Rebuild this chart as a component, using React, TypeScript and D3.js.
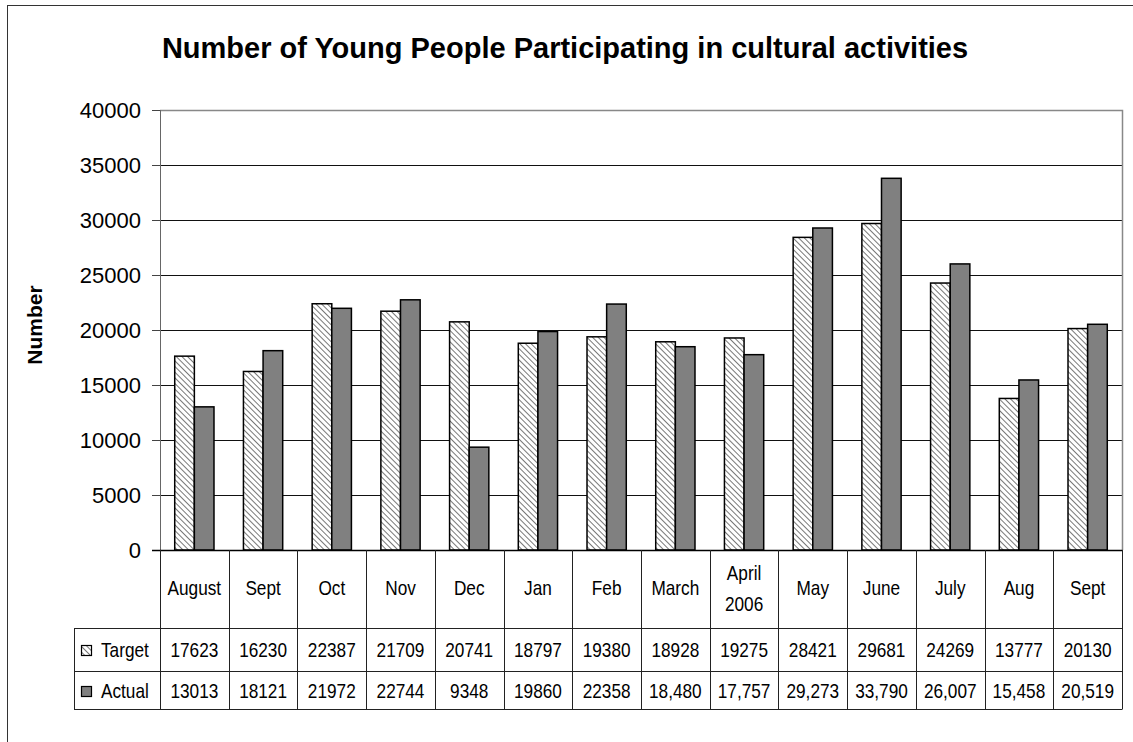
import React from "react";
import * as d3 from "d3";

const categories = ["August", "Sept", "Oct", "Nov", "Dec", "Jan", "Feb", "March", "April\n2006", "May", "June", "July", "Aug", "Sept"];
const targetValues = [17623, 16230, 22387, 21709, 20741, 18797, 19380, 18928, 19275, 28421, 29681, 24269, 13777, 20130];
const actualValues = [13013, 18121, 21972, 22744, 9348, 19860, 22358, 18480, 17757, 29273, 33790, 26007, 15458, 20519];
const targetLabels = ["17623", "16230", "22387", "21709", "20741", "18797", "19380", "18928", "19275", "28421", "29681", "24269", "13777", "20130"];
const actualLabels = ["13013", "18121", "21972", "22744", "9348", "19860", "22358", "18,480", "17,757", "29,273", "33,790", "26,007", "15,458", "20,519"];
const yTicks = [0, 5000, 10000, 15000, 20000, 25000, 30000, 35000, 40000];
const seriesNames = ["Target", "Actual"];

const W = 1133, H = 742;
const plotL = 160, plotR = 1122, plotT = 110, plotB = 550;
const row1B = 628, row2B = 671, row3B = 709, legendL = 74;
const sans = "'Liberation Sans', Arial, sans-serif";
const NS = 0.82; // narrow horizontal scale
const TFS = 21; // table font size

function NarrowText({ x, y, anchor = "middle", children }: { x: number; y: number; anchor?: string; children: React.ReactNode }) {
  return (
    <text transform={`translate(${x},${y}) scale(${NS},1)`} textAnchor={anchor} fontFamily={sans} fontSize={TFS}>
      {children}
    </text>
  );
}

export default function App() {
  const x = d3.scaleBand<number>().domain(d3.range(categories.length)).range([plotL, plotR]).paddingInner(0).paddingOuter(0);
  const y = d3.scaleLinear().domain([0, 40000]).range([plotB, plotT]);
  const bw = x.bandwidth();
  const barW = bw / 3.5;
  const off = bw * 0.75 / 3.5;

  return (
    <svg width={W} height={H} style={{ position: "absolute", left: 0, top: 0, background: "#fff" }}>
      <defs>
        <pattern id="hatch" width="4" height="4" patternUnits="userSpaceOnUse" patternTransform="rotate(-45)">
          <rect width="4" height="4" fill="#fff" />
          <line x1="0" y1="0" x2="0" y2="4" stroke="#555" strokeWidth="1.6" />
        </pattern>
      </defs>
      <rect x={7.5} y={5.5} width={W + 20} height={H + 20} fill="#fff" stroke="#333" strokeWidth={1} />
      <text x={565} y={58} textAnchor="middle" fontFamily={sans} fontWeight="bold" fontSize={29}>
        Number of Young People Participating in cultural activities
      </text>
      <text transform={`translate(42,${325}) rotate(-90)`} textAnchor="middle" fontFamily={sans} fontWeight="bold" fontSize={21}>
        Number
      </text>
      {yTicks.filter(t => t > 0 && t < 40000).map(t => (
        <line key={t} x1={plotL} x2={plotR} y1={Math.round(y(t)) + 0.5} y2={Math.round(y(t)) + 0.5} stroke="#111" strokeWidth={1} />
      ))}
      <path d={`M${plotL},${plotT + 0.5}H${plotR + 0.5}V${plotB}`} fill="none" stroke="#888" strokeWidth={1.5} />
      <line x1={plotL + 0.5} x2={plotL + 0.5} y1={plotT} y2={plotB} stroke="#666" strokeWidth={1} />
      {yTicks.map(t => (
        <g key={t}>
          <line x1={plotL - 8} x2={plotL} y1={Math.round(y(t)) + 0.5} y2={Math.round(y(t)) + 0.5} stroke="#444" />
          <text x={141} y={y(t) + 8} textAnchor="end" fontFamily={sans} fontSize={22}>{t}</text>
        </g>
      ))}
      {categories.map((c, i) => {
        const x0 = (x(i) as number) + off;
        return (
          <g key={i}>
            <rect x={x0} y={y(targetValues[i])} width={barW} height={plotB - y(targetValues[i])} fill="url(#hatch)" stroke="#000" strokeWidth={1.5} />
            <rect x={x0 + barW} y={y(actualValues[i])} width={barW} height={plotB - y(actualValues[i])} fill="#808080" stroke="#000" strokeWidth={1.5} />
          </g>
        );
      })}
      <line x1={plotL - 8} x2={plotR + 0.5} y1={plotB + 0.5} y2={plotB + 0.5} stroke="#000" strokeWidth={1.5} />
      {d3.range(categories.length + 1).map(i => {
        const xx = Math.round(i < categories.length ? (x(i) as number) : plotR) + 0.5;
        return <line key={i} x1={xx} x2={xx} y1={plotB} y2={row3B} stroke="#222" strokeWidth={1} />;
      })}
      <line x1={legendL + 0.5} x2={legendL + 0.5} y1={row1B} y2={row3B} stroke="#222" />
      {[row1B, row2B, row3B].map(r => (
        <line key={r} x1={legendL} x2={plotR + 0.5} y1={r + 0.5} y2={r + 0.5} stroke="#222" strokeWidth={1} />
      ))}
      {categories.map((c, i) => {
        const cx = (x(i) as number) + bw / 2;
        const lines = c.split("\n");
        return (
          <g key={i}>
            {lines.map((l, k) => (
              <NarrowText key={k} x={cx} y={595 + (k - (lines.length - 1) / 2) * 31}>{l}</NarrowText>
            ))}
            <NarrowText x={cx} y={657}>{targetLabels[i]}</NarrowText>
            <NarrowText x={cx} y={698}>{actualLabels[i]}</NarrowText>
          </g>
        );
      })}
      <rect x={81.5} y={645.5} width={10} height={10} fill="url(#hatch)" stroke="#000" strokeWidth={1.2} />
      <NarrowText x={101} y={657} anchor="start">{seriesNames[0]}</NarrowText>
      <rect x={81.5} y={686.5} width={10} height={10} fill="#808080" stroke="#000" strokeWidth={1.2} />
      <NarrowText x={101} y={698} anchor="start">{seriesNames[1]}</NarrowText>
    </svg>
  );
}
